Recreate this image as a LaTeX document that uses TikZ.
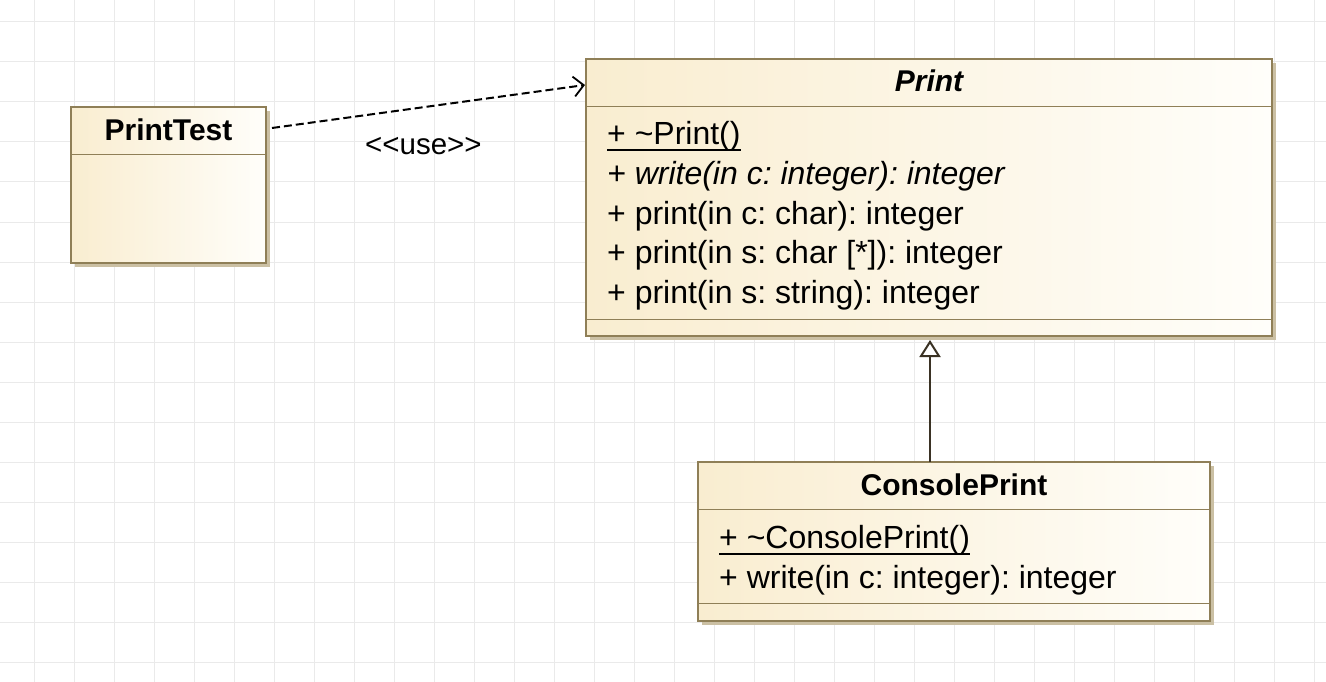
\documentclass[tikz,border=0pt]{standalone}
\usepackage{fontspec}
\setmainfont{Liberation Sans}
\usetikzlibrary{arrows.meta,shadows,calc}
\definecolor{gridc}{RGB}{234,234,234}
\definecolor{borderc}{RGB}{143,127,87}
\definecolor{shadowc}{RGB}{203,192,164}
\definecolor{fillL}{RGB}{249,237,208}
\definecolor{fillR}{RGB}{255,254,250}
\definecolor{genc}{RGB}{58,50,36}
\frenchspacing
\begin{document}
\begin{tikzpicture}[x=1pt,y=-1pt,
  classbox/.style={draw=borderc, line width=2pt, left color=fillL, right color=fillR,
    inner sep=0pt, outer sep=0pt, anchor=north west,
    drop shadow={shadow xshift=4pt, shadow yshift=-4pt, fill=shadowc, opacity=1}},
  sepline/.style={draw=borderc, line width=1pt},
  titletext/.style={font=\fontsize{30}{36}\selectfont\bfseries, inner sep=0pt, anchor=base},
  membertext/.style={font=\fontsize{32}{38}\selectfont, inner sep=0pt, anchor=base west},
  uline/.style={line width=2pt},
  gridline/.style={draw=gridc, line width=1pt}
]
\useasboundingbox (0,0) rectangle (1326,682);
\fill[white] (0,0) rectangle (1326,682);
\foreach \gx in {34,74,...,1314} \draw[gridline] (\gx,0) -- (\gx,682);
\foreach \gy in {22,62,...,662} \draw[gridline] (0,\gy) -- (1326,\gy);

% class boxes
\node[classbox, minimum width=195pt, minimum height=156pt] (PrintTest) at (71,107) {};
\node[classbox, minimum width=686pt, minimum height=277pt] (Print) at (586,59) {};
\node[classbox, minimum width=512pt, minimum height=159pt] (ConsolePrint) at (698,462) {};

% separators
\draw[sepline] ([shift={(1,48)}]PrintTest.north west) -- ([shift={(-1,48)}]PrintTest.north east);
\draw[sepline] ([shift={(1,48)}]Print.north west) -- ([shift={(-1,48)}]Print.north east);
\draw[sepline] ([shift={(1,-17)}]Print.south west) -- ([shift={(-1,-17)}]Print.south east);
\draw[sepline] ([shift={(1,47)}]ConsolePrint.north west) -- ([shift={(-1,47)}]ConsolePrint.north east);
\draw[sepline] ([shift={(1,-18)}]ConsolePrint.south west) -- ([shift={(-1,-18)}]ConsolePrint.south east);

% titles
\node[titletext] (PrintTestTitle) at ([shift={(0,34)}]PrintTest.north) {PrintTest};
\node[titletext, font=\fontsize{30}{36}\selectfont\bfseries\itshape] (PrintTitle) at ([shift={(0,33)}]Print.north) {Print};
\node[titletext] (ConsolePrintTitle) at ([shift={(0,33)}]ConsolePrint.north) {ConsolePrint};

% Print members
\node[membertext] (pm1) at (607,145) {+ \textasciitilde Print()};
\draw[uline] ([shift={(0,5.5)}]pm1.base west) -- ([shift={(0,5.5)}]pm1.base east);
\node[membertext, font=\fontsize{32}{38}\selectfont\itshape] (pm2) at (607,184.5) {+ write(in c: integer): integer};
\node[membertext] (pm3) at (607,224) {+ print(in c: char): integer};
\node[membertext] (pm4) at (607,263.5) {+ print(in s: char [*]): integer};
\node[membertext] (pm5) at (607,303) {+ print(in s: string): integer};

% ConsolePrint members
\node[membertext] (cm1) at (719,548.5) {+ \textasciitilde ConsolePrint()};
\draw[uline] ([shift={(0,5)}]cm1.base west) -- ([shift={(0,5)}]cm1.base east);
\node[membertext] (cm2) at (719,588) {+ write(in c: integer): integer};

% generalization
\coordinate (gtip) at (930,340);
\draw[genc, line width=2pt, -{Triangle[open, length=17pt, width=21pt, fill=white, line width=2pt]}]
  (ConsolePrint.north -| gtip) -- (gtip);

% dependency
\coordinate (depS) at ([shift={(6,21)}]PrintTest.north east);
\coordinate (depE) at ([shift={(-1,26)}]Print.north west);
\draw[black, line width=2pt, dash pattern=on 8pt off 4pt,
  -{Straight Barb[length=10pt, width=20pt, line width=1.8pt]}] (depS) -- (depE);
\node[font=\fontsize{29.5}{35}\selectfont, inner sep=0pt, anchor=base west] (uselbl) at (365,155) {<{}<use>{}>};
\end{tikzpicture}
\end{document}
